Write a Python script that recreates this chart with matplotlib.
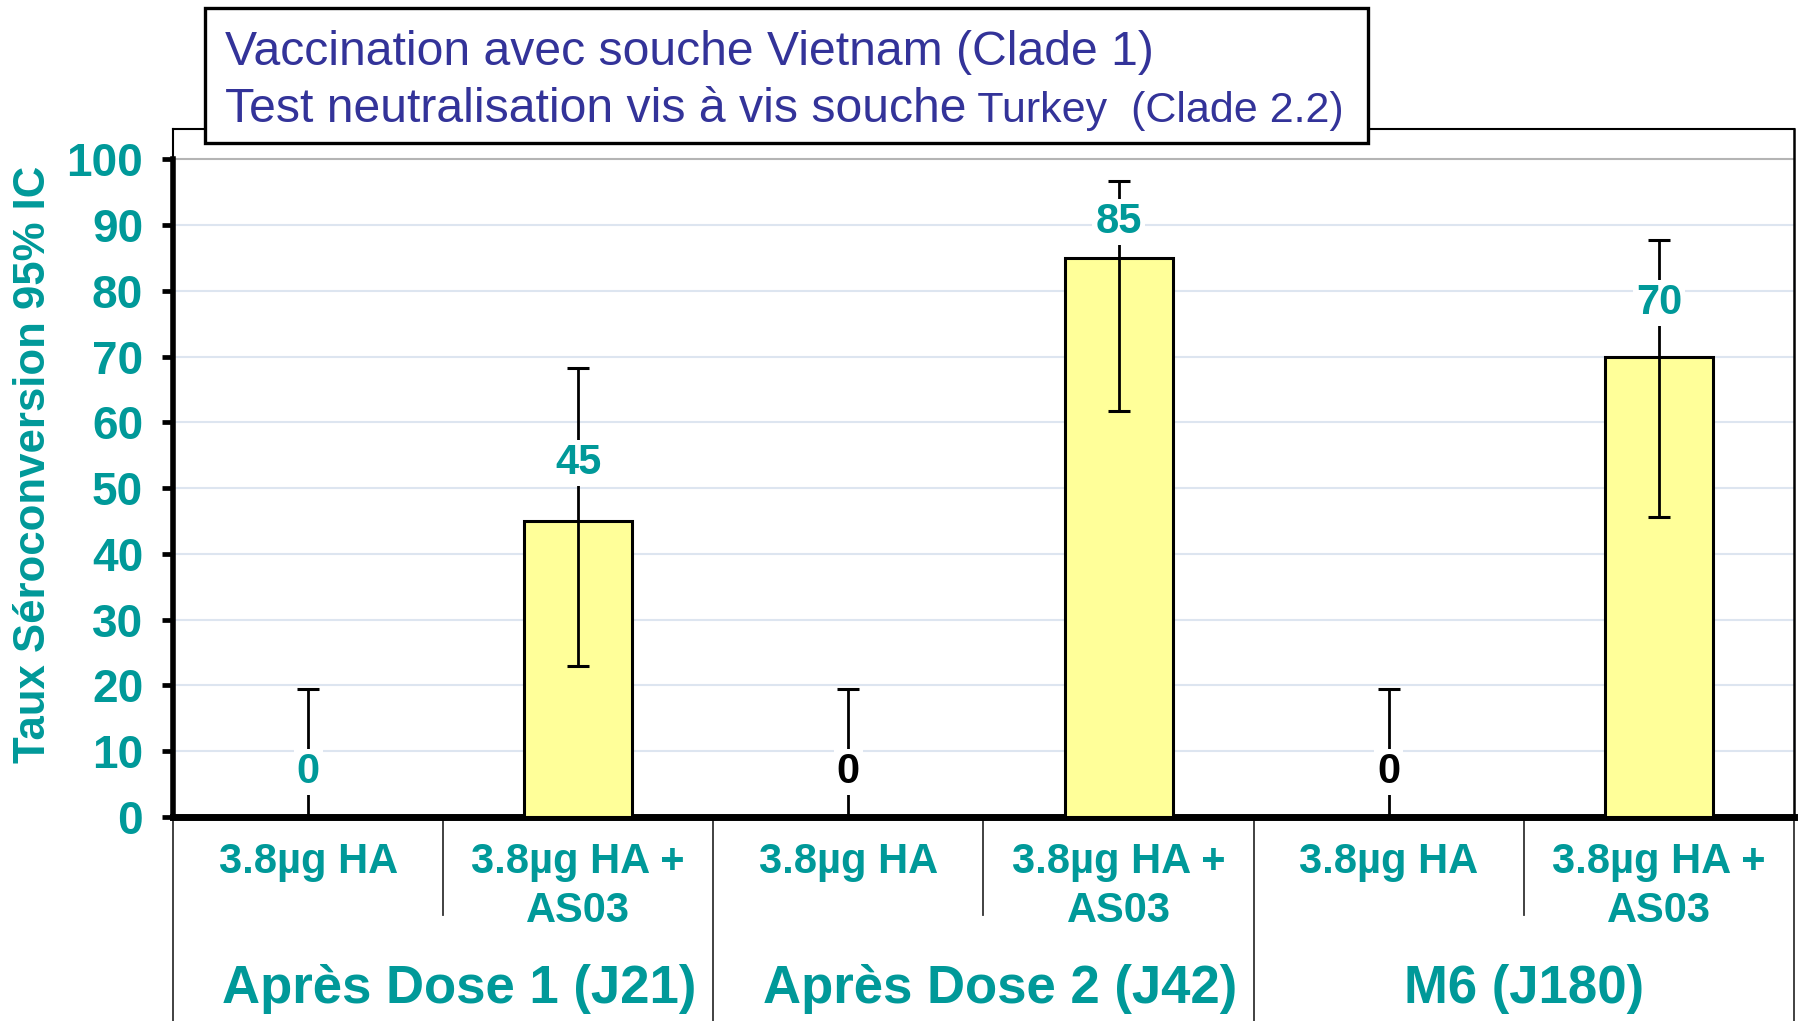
import matplotlib
matplotlib.use('Agg')
import matplotlib.pyplot as plt
from matplotlib.transforms import blended_transform_factory
from matplotlib.patches import Rectangle

plt.rcParams['font.family'] = ['Liberation Sans', 'DejaVu Sans']

# ---------------- data ----------------
categories = ['3.8µg HA', '3.8µg HA +\nAS03',
              '3.8µg HA', '3.8µg HA +\nAS03',
              '3.8µg HA', '3.8µg HA +\nAS03']
groups = ['Après Dose 1 (J21)', 'Après Dose 2 (J42)', 'M6 (J180)']
values = [0, 45, 0, 85, 0, 70]
ci_low = [0, 23.0, 0, 61.7, 0, 45.6]
ci_high = [19.5, 68.3, 19.5, 96.7, 19.5, 87.7]
value_labels = ['0', '45', '0', '85', '0', '70']
yticks = [0, 10, 20, 30, 40, 50, 60, 70, 80, 90, 100]
ylabel = 'Taux Séroconversion 95% IC'
title_line1 = 'Vaccination avec souche Vietnam (Clade 1)'
title_line2a = 'Test neutralisation vis à vis souche'
title_line2b = ' Turkey  (Clade 2.2)'

# ---------------- style ----------------
TEAL = '#009999'
BLUE = '#333399'
label_offsets = [6.9, 8.8, 6.9, 5.4, 6.9, 8.1]
label_colors = [TEAL, TEAL, 'black', TEAL, 'black', TEAL]

W, H = 1800, 1021
fig = plt.figure(figsize=(W / 100, H / 100), dpi=100)
ax_top_px, ax_bot_px, ax_left_px, ax_right_px = 129, 817, 173, 1794
ax = fig.add_axes([ax_left_px / W, 1 - ax_bot_px / H,
                   (ax_right_px - ax_left_px) / W, (ax_bot_px - ax_top_px) / H])

x = list(range(len(values)))
ymax = 104.6
ax.set_xlim(-0.5, len(values) - 0.5)
ax.set_ylim(0, ymax)

# gridlines
for v in yticks[1:-1]:
    ax.axhline(v, color='#dde5f0', lw=1.5, zorder=0)
ax.axhline(100, color='#b4b4b4', lw=1.5, zorder=0)

ax.bar(x, values, width=0.4, color='#FFFF99', edgecolor='black', linewidth=2.2, zorder=3)
lower = [v - lo for v, lo in zip(values, ci_low)]
upper = [hi - v for v, hi in zip(values, ci_high)]
ax.errorbar(x, values, yerr=[lower, upper], fmt='none', ecolor='black',
            elinewidth=2, capsize=8, capthick=2.2, zorder=4)

for xi, v, lab, off, c in zip(x, values, value_labels, label_offsets, label_colors):
    ax.text(xi, v + off, lab, ha='center', va='center', fontsize=30, fontweight='bold',
            color=c, zorder=5,
            bbox=dict(facecolor='white', edgecolor='none', pad=2))

# spines
for s in ['left', 'bottom', 'top', 'right']:
    ax.spines[s].set_color('black')
ax.spines['left'].set_linewidth(4)
ax.spines['left'].set_bounds(0, 100)
ax.spines['bottom'].set_linewidth(5)
ax.spines['top'].set_linewidth(1.5)
ax.spines['right'].set_linewidth(1.8)
ax.plot([-0.5, -0.5], [100, ymax], color='black', lw=1.5, clip_on=False, zorder=6)

ax.set_xticks([])
ax.set_yticks(yticks)
ax.set_yticklabels([str(t) for t in yticks])
ax.tick_params(axis='y', direction='out', length=8, width=3.4, pad=13.5,
               labelsize=33, labelcolor=TEAL)
for t in ax.get_yticklabels():
    t.set_fontweight('bold')

# category table below axes
trans = blended_transform_factory(ax.transData, fig.transFigure)
y0 = 1 - ax_bot_px / H
for gx in [-0.5, 1.5, 3.5, 5.5]:
    ax.plot([gx, gx], [y0, 0], transform=trans, color='#333333', lw=1.3, clip_on=False)
for sx in [0.5, 2.5, 4.5]:
    ax.plot([sx, sx], [y0, 1 - 915 / H], transform=trans, color='#333333', lw=1.3, clip_on=False)

for xi, cat in zip(x, categories):
    ax.text(xi, 1 - 842 / H, cat, transform=trans, ha='center', va='top', fontsize=30,
            fontweight='bold', color=TEAL, linespacing=1.3)

group_offsets = [0.06, 0.06, 0.0]
for gi, (g, off) in enumerate(zip(groups, group_offsets)):
    ax.text(2 * gi + 0.5 + off, 1 - 989 / H, g, transform=trans, ha='center', va='center',
            fontsize=38, fontweight='bold', color=TEAL)

# y label
fig.text(34 / W, 1 - 464 / H, ylabel, rotation=90, ha='center', va='center',
         fontsize=31.5, fontweight='bold', color=TEAL)

# title box
box = Rectangle((205 / W, 1 - 143 / H), (1368 - 205) / W, (143 - 8) / H,
                transform=fig.transFigure, facecolor='white', edgecolor='black',
                lw=2.4, zorder=10)
fig.add_artist(box)
fig.text(225 / W, 1 - 65 / H, title_line1, fontsize=34.7, color=BLUE,
         ha='left', va='baseline', zorder=11)
t2 = fig.text(225 / W, 1 - 122 / H, title_line2a, fontsize=34.7, color=BLUE,
              ha='left', va='baseline', zorder=11)
fig.canvas.draw()
r = fig.canvas.get_renderer()
bb = t2.get_window_extent(r)
fig.text(bb.x1 / W, 1 - 122 / H, title_line2b, fontsize=31, color=BLUE,
         ha='left', va='baseline', zorder=11)

fig.savefig('out.png', dpi=100)
